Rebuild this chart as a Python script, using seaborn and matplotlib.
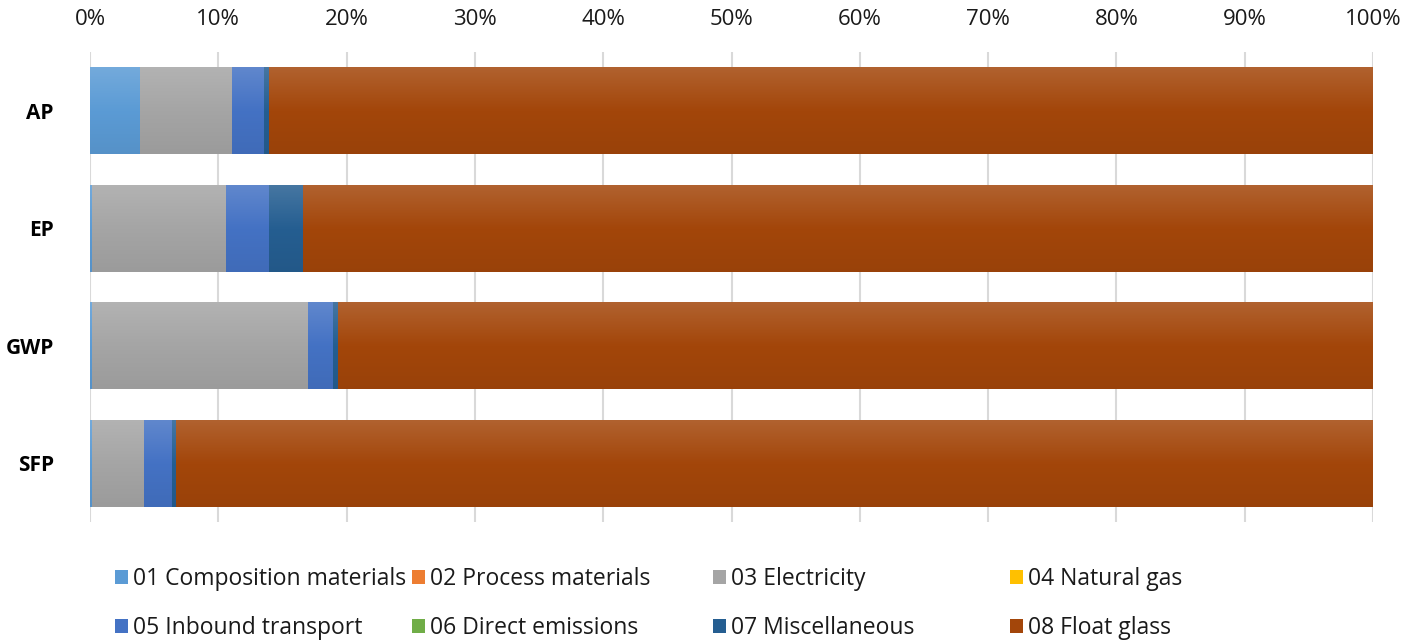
import numpy as np
import pandas as pd
import matplotlib
matplotlib.use("Agg")
import matplotlib.pyplot as plt
import seaborn as sns
from matplotlib.patches import Patch
from matplotlib.colors import to_rgb

categories = ["AP", "EP", "GWP", "SFP"]
series_names = ["01 Composition materials", "02 Process materials", "03 Electricity",
                "04 Natural gas", "05 Inbound transport", "06 Direct emissions",
                "07 Miscellaneous", "08 Float glass"]
composition = [3.84, 0.10, 0.15, 0.08]
process = [0.0, 0.0, 0.0, 0.0]
electricity = [7.20, 10.50, 16.80, 4.10]
natural_gas = [0.0, 0.0, 0.0, 0.0]
inbound = [2.50, 3.35, 1.95, 2.20]
direct = [0.0, 0.0, 0.0, 0.0]
misc = [0.39, 2.65, 0.39, 0.25]
float_glass = [86.07, 83.40, 80.71, 93.37]
colors = ["#5B9BD5", "#ED7D31", "#A5A5A5", "#FFC000", "#4472C4", "#70AD47", "#255E91", "#A3460A"]

sns.set_theme(style="white")
plt.rcParams["font.family"] = ["Open Sans", "DejaVu Sans"]

values = np.array([composition, process, electricity, natural_gas, inbound, direct, misc, float_glass])
values = values / values.sum(axis=0) * 100
cum = np.cumsum(values, axis=0)

fig = plt.figure(figsize=(14.19, 6.41), dpi=100)
ax = fig.add_axes([90/1419, 119/641, 1283/1419, 470/641])

def shade(c, f):
    r = np.array(to_rgb(c))
    if f >= 0:
        return r + (1 - r) * f
    return r * (1 + f)

layer = 0
for i in range(len(series_names) - 1, -1, -1):
    df = pd.DataFrame({"cat": categories, "val": cum[i]})
    n_before = len(ax.patches)
    sns.barplot(data=df, x="val", y="cat", orient="h", color=colors[i], saturation=1,
                width=0.74, ax=ax, zorder=2 + layer)
    new = ax.patches[n_before:]
    for p in new:
        p.set_zorder(2 + layer)
        p.set_linewidth(0)
        x0, y0 = p.get_x(), p.get_y()
        w, h = p.get_width(), p.get_height()
        if w <= 0:
            continue
        top = shade(colors[i], 0.15)
        mid = shade(colors[i], 0.0)
        bot = shade(colors[i], -0.06)
        t = np.linspace(0, 1, 64)[:, None]
        grad = np.where(t < 0.5, top + (mid - top) * (t / 0.5), mid + (bot - mid) * ((t - 0.5) / 0.5))
        grad = grad[:, None, :]
        im = ax.imshow(grad, extent=[x0, x0 + w, y0 + h, y0], aspect="auto",
                       origin="upper", zorder=2 + layer + 0.5, interpolation="bilinear")
        im.set_clip_path(p)
    layer += 1

ax.set_xlim(0, 100)
ax.set_ylim(3.5, -0.5)
ax.set_aspect("auto")
ax.set_xticks(np.arange(0, 101, 10))
ax.set_xticklabels([f"{v}%" for v in range(0, 101, 10)])
ax.xaxis.tick_top()
ax.tick_params(axis="x", length=0, pad=16, labelsize=16, colors="#1a1a1a")
ax.tick_params(axis="y", length=0, pad=26, labelsize=15, colors="#000000")
for lab in ax.get_yticklabels():
    lab.set_fontweight("bold")
ax.set_xlabel("")
ax.set_ylabel("")
ax.grid(axis="x", color="#D9D9D9", linewidth=1.5, zorder=0)
ax.set_axisbelow(True)
for s in ax.spines.values():
    s.set_visible(False)

col_x = [115, 412, 713, 1010]
for c in range(4):
    idxs = [c, c + 4]
    handles = [Patch(facecolor=colors[j], edgecolor="none") for j in idxs]
    labels = [series_names[j] for j in idxs]
    fig.legend(handles, labels, loc="upper left", bbox_to_anchor=(col_x[c] / 1419, 1 - 567 / 641),
               frameon=False, fontsize=16.5, handlelength=0.55, handleheight=0.55,
               handletextpad=0.25, labelspacing=1.1, borderaxespad=0, borderpad=0,
               labelcolor="#1a1a1a")

fig.savefig("out.png", dpi=100)
